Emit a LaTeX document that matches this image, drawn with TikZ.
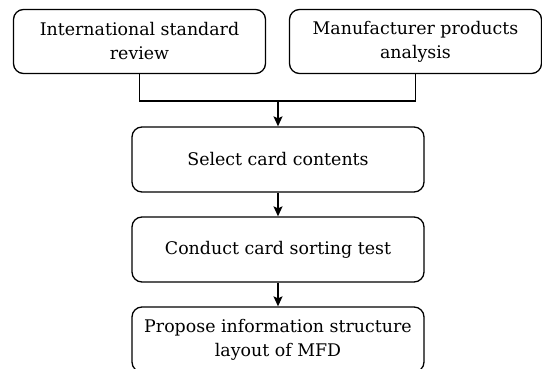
\documentclass[tikz,border=0pt]{standalone}
\usepackage{fontspec}
\setmainfont{DejaVu Serif}
\usetikzlibrary{arrows.meta}
\begin{document}
\begin{tikzpicture}[x=1pt,y=-1pt,
  box/.style={draw, line width=1.3pt, rounded corners=10pt, align=center,
    inner sep=0pt, font=\fontsize{17.4}{24}\selectfont},
  topbox/.style={box, minimum width=252pt, minimum height=64pt},
  midbox/.style={box, minimum width=292pt, minimum height=65pt},
  conn/.style={line width=1.3pt},
  arr/.style={conn, -{Stealth[length=10pt,width=9pt,inset=2pt]}}]
\useasboundingbox (0,0) rectangle (542,369);
\node[topbox] (b1) at (139.5,41.5) {International standard\\review};
\node[topbox] (b2) at (415.5,41.5) {Manufacturer products\\analysis};
\node[midbox] (b3) at (278,159.5) {Select card contents};
\node[midbox] (b4) at (278,249.5) {Conduct card sorting test};
\node[midbox] (b5) at (278,339.5) {Propose information structure\\layout of MFD};
\coordinate (m) at (278,101);
\draw[conn] (b1.south) |- (m);
\draw[conn] (b2.south) |- (m);
\draw[arr] (m) -- (b3.north);
\draw[arr] (b3.south) -- (b4.north);
\draw[arr] (b4.south) -- (b5.north);
\end{tikzpicture}
\end{document}
